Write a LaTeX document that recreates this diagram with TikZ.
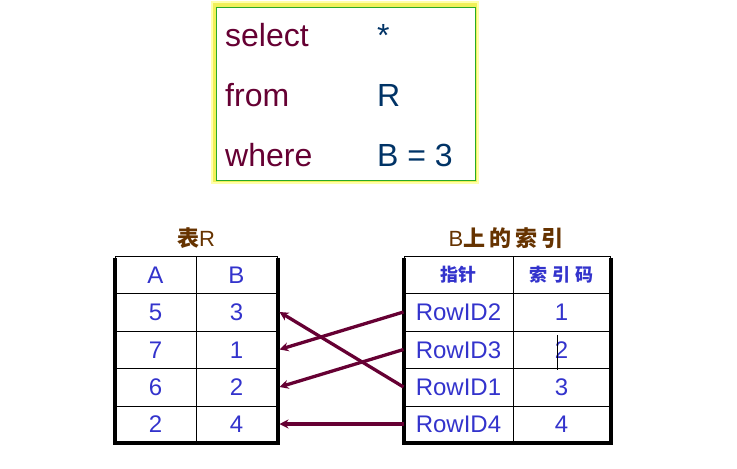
\documentclass[tikz,border=0pt]{standalone}
\usepackage{fontspec}
\setmainfont{Liberation Sans}
\newfontfamily\cjk{Noto Sans CJK SC}
\usetikzlibrary{arrows.meta}
\definecolor{sqlmaroon}{RGB}{102,0,51}
\definecolor{sqlnavy}{RGB}{0,51,102}
\definecolor{cellblue}{RGB}{51,51,204}
\definecolor{titlebrown}{RGB}{102,51,0}
\definecolor{glowouter}{RGB}{255,255,170}
\definecolor{glowinner}{RGB}{240,240,90}
\definecolor{frameg}{RGB}{40,170,40}
\begin{document}
\begin{tikzpicture}[x=1pt,y=-1pt,
  sqlkw/.style={anchor=base west, inner sep=0pt, text=sqlmaroon, font=\fontsize{32}{38}\selectfont},
  sqlval/.style={anchor=base west, inner sep=0pt, text=sqlnavy, font=\fontsize{32}{38}\selectfont},
  tcell/.style={draw=black, line width=1pt, inner sep=0pt, text=cellblue,
    font=\fontsize{24}{28}\selectfont, text height=17pt, text depth=0pt},
  hcell/.style={tcell, font=\cjk\bfseries\fontsize{18}{21}\selectfont, text height=14pt, text depth=1pt},
  ttitle/.style={anchor=base, inner sep=0pt, text=titlebrown, font=\fontsize{22}{26}\selectfont},
  ptr/.style={draw=sqlmaroon, line width=3.3pt, -{Stealth[length=9pt,width=9pt,inset=3pt]}},
  thickframe/.style={draw=black, line width=4pt, line join=miter}
]
\useasboundingbox (0,0) rectangle (737,469);

% SQL box
\fill[glowouter] (211,1) rectangle (479,184);
\fill[glowinner] (213,3) rectangle (477,182);
\draw[frameg, line width=1pt, fill=white] (216,7) rectangle (475,180);
\node[sqlkw] (kselect) at (225,46) {select};
\node[sqlkw] (kfrom) at (225,106) {from};
\node[sqlkw] (kwhere) at (225,166) {where};
\node[sqlval] (vstar) at (377,46) {*};
\node[sqlval] (vR) at (377,106) {R};
\node[sqlval] (vB) at (377,166) {B = 3};

% titles
\node[ttitle] (titleR) at (196,246) {{\cjk\bfseries 表}R};
\node[ttitle] (titleI) at (506,246) {B{\cjk\bfseries 上\hspace{4pt}的\hspace{4pt}索\hspace{4pt}引}};

% table R
\node[tcell, minimum width=81pt, minimum height=37pt] (tah) at (155.5,274.5) {A};
\node[tcell, minimum width=81pt, minimum height=37pt] (tbh) at (236.5,274.5) {B};
\node[tcell, minimum width=81pt, minimum height=38pt] (ta1) at (155.5,312) {5};
\node[tcell, minimum width=81pt, minimum height=38pt] (tb1) at (236.5,312) {3};
\node[tcell, minimum width=81pt, minimum height=37pt] (ta2) at (155.5,349.5) {7};
\node[tcell, minimum width=81pt, minimum height=37pt] (tb2) at (236.5,349.5) {1};
\node[tcell, minimum width=81pt, minimum height=38pt] (ta3) at (155.5,387) {6};
\node[tcell, minimum width=81pt, minimum height=38pt] (tb3) at (236.5,387) {2};
\node[tcell, minimum width=81pt, minimum height=36pt] (ta4) at (155.5,424) {2};
\node[tcell, minimum width=81pt, minimum height=36pt] (tb4) at (236.5,424) {4};
\draw[thickframe] ([yshift=-2pt]tah.north west) -- (ta4.south west) -- (tb4.south east) -- ([yshift=-2pt]tbh.north east);

% index on B
\node[hcell, minimum width=109pt, minimum height=37pt] (iph) at (458.5,274.5) {指针};
\node[hcell, minimum width=97pt, minimum height=37pt] (ikh) at (561.5,274.5) {索\hspace{5pt}引\hspace{5pt}码};
\node[tcell, minimum width=109pt, minimum height=38pt] (ip1) at (458.5,312) {RowID2};
\node[tcell, minimum width=97pt, minimum height=38pt] (ik1) at (561.5,312) {1};
\node[tcell, minimum width=109pt, minimum height=37pt] (ip2) at (458.5,349.5) {RowID3};
\node[tcell, minimum width=97pt, minimum height=37pt] (ik2) at (561.5,349.5) {2};
\node[tcell, minimum width=109pt, minimum height=38pt] (ip3) at (458.5,387) {RowID1};
\node[tcell, minimum width=97pt, minimum height=38pt] (ik3) at (561.5,387) {3};
\node[tcell, minimum width=109pt, minimum height=36pt] (ip4) at (458.5,424) {RowID4};
\node[tcell, minimum width=97pt, minimum height=36pt] (ik4) at (561.5,424) {4};
\draw[thickframe] ([yshift=-2pt]iph.north west) -- (ip4.south west) -- (ik4.south east) -- ([yshift=-2pt]ikh.north east);
\draw[line width=0.6pt] (557,335) -- (557,370);

% pointers
\draw[ptr] (ip1.west) -- ([xshift=2pt]tb2.east);
\draw[ptr] (ip2.west) -- ([xshift=2pt]tb3.east);
\draw[ptr] (ip3.west) -- ([xshift=2pt]tb1.east);
\draw[ptr] (ip4.west) -- ([xshift=2pt]tb4.east);
\end{tikzpicture}
\end{document}
